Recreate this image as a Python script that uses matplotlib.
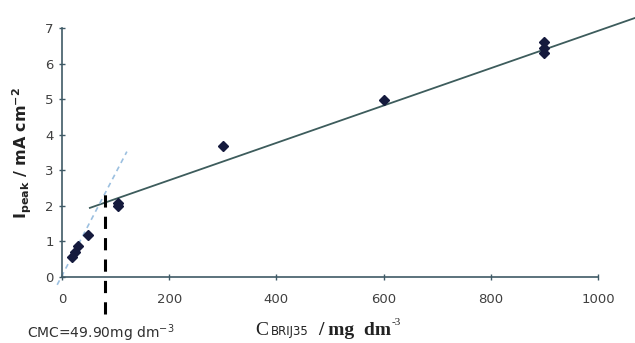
import numpy as np
import matplotlib
matplotlib.use('Agg')
import matplotlib.pyplot as plt

# measured points (C_BRIJ35 in mg dm-3, I_peak in mA cm-2)
conc = [19, 24, 30, 48, 104, 104, 300, 600, 900, 900, 900]
ipeak = [0.56, 0.69, 0.88, 1.18, 2.08, 2.0, 3.67, 4.97, 6.6, 6.45, 6.3]

# trendlines: slope, intercept, x range
fit_high = (0.00525, 1.67)
fit_high_range = (52, 1069)
fit_low = (0.0288, 0.04)
fit_low_range = (-9, 121)

# CMC marker
cmc_x = 80
cmc_span = (-1.05, 2.55)
cmc_label = 'CMC=49.90mg dm$^{-3}$'

xticks = [0, 200, 400, 600, 800, 1000]
yticks = [0, 1, 2, 3, 4, 5, 6, 7]

axis_col = '#3f5a66'
tick_col = '#404040'
text_col = '#222222'

W, H = 635, 343
fig = plt.figure(figsize=(W / 100, H / 100), dpi=100)
ax = fig.add_axes([62 / W, 1 - 277 / H, 536 / W, 249 / H])

ax.set_xlim(0, 1000)
ax.set_ylim(0, 7)

# trendlines
xs = np.array(fit_high_range)
ax.plot(xs, fit_high[0] * xs + fit_high[1], color='#3d5c5c', lw=1.3, clip_on=False, zorder=2)
xs = np.array(fit_low_range)
ax.plot(xs, fit_low[0] * xs + fit_low[1], color='#9cc0e0', lw=1.2, ls=(0, (3, 2.5)),
        clip_on=False, zorder=2)

# CMC vertical, runs down past the axis into the label area
ax.plot([cmc_x, cmc_x], cmc_span, color='black', lw=2.2, ls=(0, (4, 3)),
        clip_on=False, zorder=5)

ax.plot(conc, ipeak, ls='none', marker='D', ms=5, color='#151a3d', zorder=4)

for s in ['top', 'right']:
    ax.spines[s].set_visible(False)
for s in ['left', 'bottom']:
    ax.spines[s].set_color(axis_col)
    ax.spines[s].set_linewidth(1.2)

ax.set_xticks(xticks)
ax.set_yticks(yticks)
ax.tick_params(direction='inout', length=5, width=1, color=axis_col,
               labelsize=9.5, labelcolor=tick_col)
ax.tick_params(axis='x', pad=9)

fig.text(22 / W, 1 - 153 / H,
         r'$\mathbf{I}_{\mathbf{peak}}\mathbf{\ /\ mA\ cm^{-2}}$',
         rotation=90, ha='center', va='center', fontsize=11.5, color=text_col)

# x axis title built from pieces: C, small BRIJ35 subscript, bold "/ mg dm", superscript
base = 1 - 335 / H
fig.text(255 / W, base, 'C', family='Liberation Serif', fontsize=14,
         ha='left', va='baseline', color=text_col)
fig.text(271 / W, base, 'BRIJ35', family='DejaVu Sans', fontsize=8.5,
         ha='left', va='baseline', color=text_col)
unit = fig.text(318 / W, base, '/ mg  dm', family='Liberation Serif', fontsize=14,
                fontweight='bold', ha='left', va='baseline', color=text_col)
bb = unit.get_window_extent(renderer=fig.canvas.get_renderer())
fig.text(bb.x1 / W + 0.001, base + 0.028, '-3', family='Liberation Serif', fontsize=8,
         ha='left', va='baseline', color=text_col)

fig.text(101 / W, 1 - 333 / H, cmc_label, ha='center', va='center',
         fontsize=10, color='#303030')

fig.savefig('out.png', dpi=100)
